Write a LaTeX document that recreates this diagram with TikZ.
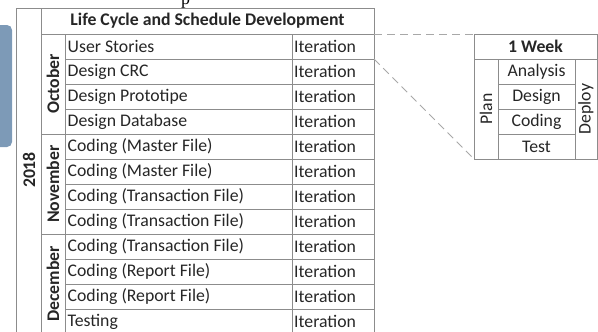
\documentclass[tikz,border=0pt]{standalone}
\usepackage{fontspec}
\setmainfont{Carlito}
\newfontfamily\capfont{Liberation Serif}
\begin{document}
\begin{tikzpicture}[x=1bp,y=-1bp,
  grid/.style={draw=gridgray,line width=0.9bp},
  txt/.style={inner sep=0pt,text=ink,font=\fontsize{17.8}{19}\selectfont},
  lefttxt/.style={txt,anchor=west},
  boldtxt/.style={txt,font=\fontsize{17.8}{19}\selectfont\bfseries},
  vlabel/.style={txt,rotate=90,font=\fontsize{17.8}{19}\selectfont\bfseries},
  vplain/.style={txt,rotate=90},
  zoomline/.style={draw=dashgray,line width=1bp,dash pattern=on 8bp off 5bp}]
\definecolor{gridgray}{HTML}{8C8C8C}
\definecolor{dashgray}{HTML}{A8A8A8}
\definecolor{ink}{HTML}{262626}
\definecolor{tabblue}{HTML}{7D9AB7}
\useasboundingbox (0,0) rectangle (598,331);

% side tab
\fill[tabblue,rounded corners=5bp] (-12,25) rectangle (12,147);

% caption fragment above the table
\node[anchor=base west,inner sep=0pt,text=black,font=\capfont\fontsize{18}{20}\selectfont] (cap) at (181,4) {p};

% ---- main schedule table ----
% outer frame and fixed columns
\draw[grid] (16,8) -- (374,8);
\draw[grid] (16,8) -- (16,340);
\draw[grid] (41,8) -- (41,340);
\draw[grid] (374,8) -- (374,340);
\draw[grid] (65,34) -- (65,340);
\draw[grid] (292,34) -- (292,340);
\draw[grid] (41,34) -- (374,34);
% month separators
\draw[grid] (41,134) -- (374,134);
\draw[grid] (41,234) -- (374,234);
% row separators
\foreach \y in {59,84,109,159,184,209,259,284,309}
  \draw[grid] (65,\y) -- (374,\y);

% headings
\node[boldtxt] (title) at (207.5,21) {Life Cycle and Schedule Development};
\node[vlabel] (year) at (29,170) {2018};
\node[vlabel] (oct) at (53,84) {October};
\node[vlabel] (nov) at (53,184) {November};
\node[vlabel] (dec) at (53,284) {December};

% activities and their type
\foreach \n/\t [count=\i] in {
  User Stories,
  Design CRC,
  Design Prototipe,
  Design Database,
  Coding (Master File),
  Coding (Master File),
  Coding (Transaction File),
  Coding (Transaction File),
  Coding (Transaction File),
  Coding (Report File),
  Coding (Report File),
  Testing}{
  \pgfmathsetmacro\yc{34+25*(\i-1)+12.5}
  \node[lefttxt] (task\i) at (67.5,\yc) {\n};
  \node[lefttxt] (iter\i) at (294,\yc) {Iteration};
}

% corners of the first iteration cell
\coordinate (cellNE) at (374,34);
\coordinate (cellSE) at (374,59);

% ---- one week detail ----
\draw[grid] (474,34) rectangle (597,159);
\draw[grid] (474,59) -- (597,59);
\draw[grid] (498,59) -- (498,159);
\draw[grid] (575,59) -- (575,159);
\foreach \y in {84,109,134}
  \draw[grid] (498,\y) -- (575,\y);

\node[boldtxt] (week) at (535.5,46.5) {1 Week};
\node[vplain] (plan) at (486,109) {Plan};
\node[vplain] (deploy) at (586,109) {Deploy};
\node[txt] (analysis) at (536.5,71.5) {Analysis};
\node[txt] (design) at (536.5,96.5) {Design};
\node[txt] (coding) at (536.5,121.5) {Coding};
\node[txt] (test) at (536.5,146.5) {Test};

\coordinate (weekNW) at (474,34);
\coordinate (weekSW) at (474,159);

% zoom lines from the iteration cell to its detail
\draw[zoomline] (cellNE) -- (weekNW);
\draw[zoomline] (cellSE) -- (weekSW);
\end{tikzpicture}
\end{document}
